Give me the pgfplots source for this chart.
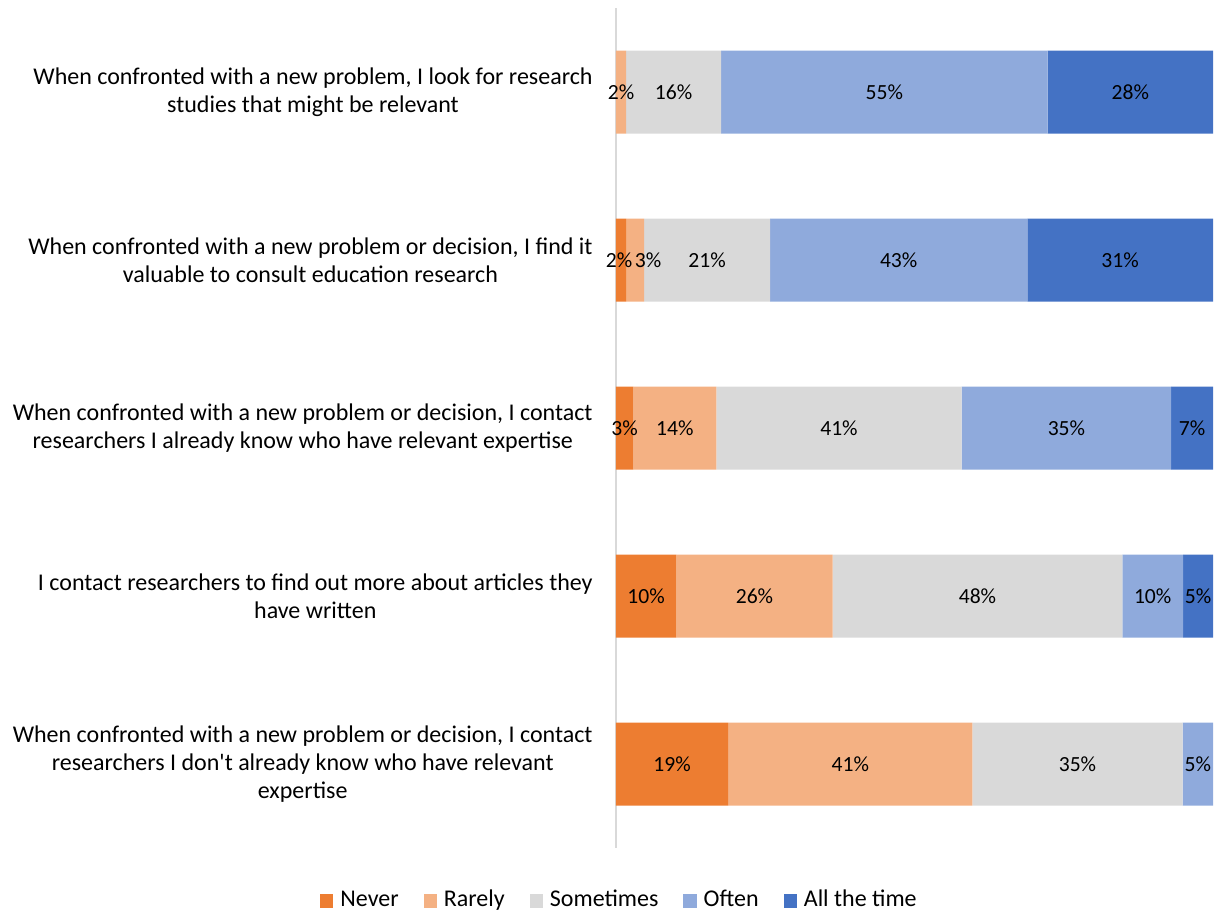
\documentclass[border=0pt]{standalone}
\usepackage{pgfplots}
\usepackage{pgfplotstable}
\pgfplotsset{compat=1.18}
\usepackage{fontspec}
\setmainfont{Carlito}
\definecolor{cnever}{HTML}{ED7D31}
\definecolor{crarely}{HTML}{F4B183}
\definecolor{csome}{HTML}{D9D9D9}
\definecolor{coften}{HTML}{8FAADC}
\definecolor{call}{HTML}{4472C4}
\definecolor{cline}{HTML}{D9D9D9}
\definecolor{ctext}{HTML}{000000}

\pgfplotstableread{
y x lab dx
1 0 {} 0
2 1.7 2\% -1
3 2.9 3\% 0
4 10.1 10\% 0
5 18.8 19\% 0
}\tnever
\pgfplotstableread{
y x lab dx
1 1.7 2\% 0
2 3.0 3\% 6.5
3 13.9 14\% 0
4 26.2 26\% 0
5 40.9 41\% 0
}\trarely
\pgfplotstableread{
y x lab dx
1 15.9 16\% 0
2 21.1 21\% 0
3 41.1 41\% 0
4 48.5 48\% 0
5 35.2 35\% 0
}\tsome
\pgfplotstableread{
y x lab dx
1 54.7 55\% 0
2 43.1 43\% 0
3 35.1 35\% 0
4 10.2 10\% 0
5 5.1 5\% 0
}\toften
\pgfplotstableread{
y x lab dx
1 27.7 28\% 0
2 31.1 31\% 0
3 7.0 7\% 0
4 5.0 5\% 0
5 0 {} 0
}\tall

\begin{document}
\begin{tikzpicture}
\useasboundingbox (0,0) rectangle (608.5pt,-455.5pt);
\begin{axis}[
  at={(308pt,-424pt)}, anchor=south west,
  scale only axis, width=298.5pt, height=420pt,
  xbar stacked, bar width=41.5pt,
  xmin=0, xmax=100, ymin=0.5, ymax=5.5, y dir=reverse,
  axis lines*=left,
  x axis line style={draw=none},
  y axis line style={draw=cline, line width=0.8pt},
  xtick=\empty,
  ytick={1,2,3,4,5},
  major tick length=0pt,
  yticklabels={
    {When confronted with a new problem, I look for research\\studies that might be relevant},
    {When confronted with a new problem or decision, I find it\\valuable to consult education research},
    {When confronted with a new problem or decision, I contact\\researchers I already know who have relevant expertise},
    {I contact researchers to find out more about articles they\\have written},
    {When confronted with a new problem or decision, I contact\\researchers I don\textquotesingle t already know who have relevant\\expertise}},
  yticklabel style={align=center, font=\fontsize{12}{14.2}\selectfont, text=ctext, inner sep=0pt, xshift=-11.5pt},
  point meta=explicit symbolic,
  visualization depends on={\thisrow{dx} \as \dx},
  nodes near coords={\pgfplotspointmeta},
  every node near coord/.append style={font=\fontsize{10.8}{12}\selectfont, text=ctext, xshift=\dx pt},
  legend columns=5,
  legend style={draw=none, at={(0.01,-0.063)}, anchor=center, font=\fontsize{12}{14}\selectfont,
    nodes={text height=1.6ex, text depth=0.45ex, inner xsep=3.5pt},
    /tikz/every even column/.append style={column sep=9pt}},
  legend image code/.code={\fill[#1] (0pt,-3.3pt) rectangle (6.6pt,3.3pt);},
]
\addplot+[fill=cnever, draw=none] table[x=x, y=y, meta=lab] {\tnever};
\addplot+[fill=crarely, draw=none] table[x=x, y=y, meta=lab] {\trarely};
\addplot+[fill=csome, draw=none] table[x=x, y=y, meta=lab] {\tsome};
\addplot+[fill=coften, draw=none] table[x=x, y=y, meta=lab] {\toften};
\addplot+[fill=call, draw=none] table[x=x, y=y, meta=lab] {\tall};
\legend{Never, Rarely, Sometimes, Often, All the time}
\end{axis}
\end{tikzpicture}
\end{document}
